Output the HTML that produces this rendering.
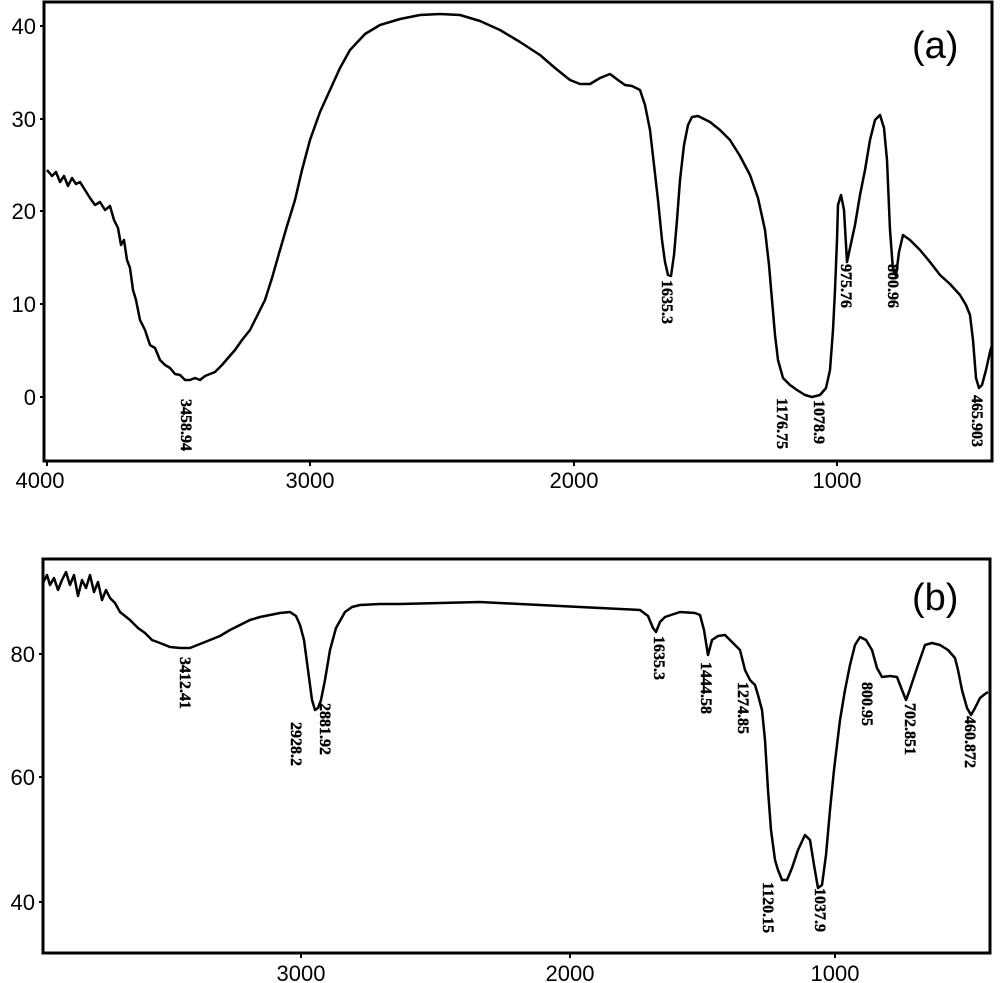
<!DOCTYPE html>
<html><head><meta charset="utf-8"><style>
html,body{margin:0;padding:0;background:#fff;}
svg{display:block;}
.t{font-family:"Liberation Sans",sans-serif;font-size:22px;fill:#000;}
.p{font-family:"Liberation Serif",serif;font-weight:bold;font-size:16px;fill:#000;stroke:#000;stroke-width:0.4;}
.c{fill:none;stroke:#000;stroke-width:2.5;stroke-linejoin:round;}
</style></head><body>
<svg width="1000" height="983" viewBox="0 0 1000 983" xmlns="http://www.w3.org/2000/svg">
<rect x="44" y="2" width="948" height="459" fill="none" stroke="#000" stroke-width="3"/>
<g stroke="#000" stroke-width="2">
<line x1="40" y1="26" x2="44" y2="26"/><line x1="40" y1="119" x2="44" y2="119"/><line x1="40" y1="211" x2="44" y2="211"/><line x1="40" y1="304" x2="44" y2="304"/><line x1="40" y1="397" x2="44" y2="397"/>
<line x1="47" y1="461" x2="47" y2="466"/><line x1="310" y1="461" x2="310" y2="466"/><line x1="574" y1="461" x2="574" y2="466"/><line x1="837" y1="461" x2="837" y2="466"/>
</g>
<g class="t" text-anchor="end">
<text x="36" y="34">40</text><text x="36" y="127">30</text><text x="36" y="219">20</text><text x="36" y="312">10</text><text x="36" y="405">0</text>
</g>
<g class="t" text-anchor="middle">
<text x="40" y="488">4000</text><text x="310" y="488">3000</text><text x="574" y="488">2000</text><text x="837" y="488">1000</text>
</g>
<text x="912" y="58" style="font-family:'Liberation Sans',sans-serif;font-size:38px">(a)</text>
<polyline class="c" points="47,170 52,176 56,172 60,182 64,176 68,186 72,178 76,184 80,182 85,190 90,198 95,205 100,202 105,210 110,206 114,220 118,228 121,245 124,240 127,260 130,268 133,290 136,300 140,320 145,330 150,345 155,348 160,360 165,365 170,368 175,374 180,375 185,380 190,380 195,378 200,380 205,376 210,374 215,372 222,365 228,358 235,350 242,340 250,330 257,316 265,300 272,278 280,250 287,226 295,200 302,170 310,140 320,112 330,90 340,68 350,50 365,34 380,25 400,19 420,15 440,14 460,15 480,21 500,30 520,42 540,55 555,68 570,80 580,84 590,84 600,78 610,74 618,80 625,85 632,86 640,90 645,105 650,130 654,165 658,200 662,240 665,262 668,275 671,276 674,255 677,220 680,180 684,145 688,125 692,117 698,116 710,122 720,130 730,140 740,156 750,175 758,198 765,230 769,265 772,300 775,335 778,360 783,378 790,385 797,390 805,395 812,397 820,395 826,388 830,370 833,330 835,290 837,240 838,205 841,195 844,210 847,262 850,248 855,225 860,195 865,170 870,140 875,120 880,115 884,128 887,160 890,230 893,270 896,276 899,252 903,235 910,240 920,250 930,262 940,275 950,284 960,295 966,305 970,315 973,340 976,378 979,388 982,385 986,370 990,352 992,345"/>
<g class="p">
<text transform="translate(181,399) rotate(90)">3458.94</text>
<text transform="translate(662,280) rotate(90)">1635.3</text>
<text transform="translate(841,264) rotate(90)">975.76</text>
<text transform="translate(888,264) rotate(90)">800.96</text>
<text transform="translate(777,398) rotate(90)">1176.75</text>
<text transform="translate(814,400) rotate(90)">1078.9</text>
<text transform="translate(972,395) rotate(90)">465.903</text>
</g>
<rect x="43" y="559" width="947" height="394" fill="none" stroke="#000" stroke-width="3"/>
<g stroke="#000" stroke-width="2">
<line x1="39" y1="654" x2="43" y2="654"/><line x1="39" y1="777" x2="43" y2="777"/><line x1="39" y1="902" x2="43" y2="902"/>
<line x1="301" y1="953" x2="301" y2="958"/><line x1="570" y1="953" x2="570" y2="958"/><line x1="835" y1="953" x2="835" y2="958"/>
</g>
<g class="t" text-anchor="end">
<text x="35" y="662">80</text><text x="35" y="785">60</text><text x="35" y="910">40</text>
</g>
<g class="t" text-anchor="middle">
<text x="301" y="981">3000</text><text x="570" y="981">2000</text><text x="835" y="981">1000</text>
</g>
<text x="912" y="610" style="font-family:'Liberation Sans',sans-serif;font-size:38px">(b)</text>
<polyline class="c" points="43,583 47,575 50,585 54,578 58,590 62,580 66,572 70,585 74,575 78,596 82,580 86,588 90,575 94,592 98,582 102,600 106,590 110,598 115,603 120,612 125,616 130,620 138,628 145,633 152,640 160,643 170,647 180,648 190,648 200,644 210,640 220,636 230,630 240,625 250,620 260,617 270,615 280,613 290,612 296,616 300,625 304,640 308,670 312,700 315,710 318,708 321,700 325,680 330,650 336,628 345,612 352,607 360,605 380,604 400,604 440,603 480,602 520,604 560,606 600,608 640,610 648,616 653,628 656,632 660,622 665,617 680,612 695,613 700,615 704,630 708,655 712,640 718,636 725,635 730,640 735,645 740,650 745,670 750,680 755,685 758,695 762,710 765,740 768,790 771,830 775,860 778,870 782,880 787,880 792,868 798,850 805,835 810,840 814,865 818,888 822,885 826,855 830,810 834,770 840,720 845,690 850,665 855,645 860,637 866,640 872,650 877,668 882,677 890,676 897,677 902,690 906,700 909,692 913,680 918,665 925,645 932,643 940,645 948,650 955,658 958,670 962,690 967,708 971,715 975,708 980,698 985,694 988,692"/>
<g class="p">
<text transform="translate(180,657) rotate(90)">3412.41</text>
<text transform="translate(291,722) rotate(90)">2928.2</text>
<text transform="translate(320,703) rotate(90)">2881.92</text>
<text transform="translate(654,636) rotate(90)">1635.3</text>
<text transform="translate(701,662) rotate(90)">1444.58</text>
<text transform="translate(738,682) rotate(90)">1274.85</text>
<text transform="translate(763,882) rotate(90)">1120.15</text>
<text transform="translate(815,888) rotate(90)">1037.9</text>
<text transform="translate(862,682) rotate(90)">800.95</text>
<text transform="translate(905,703) rotate(90)">702.851</text>
<text transform="translate(965,716) rotate(90)">460.872</text>
</g>
</svg>
</body></html>
